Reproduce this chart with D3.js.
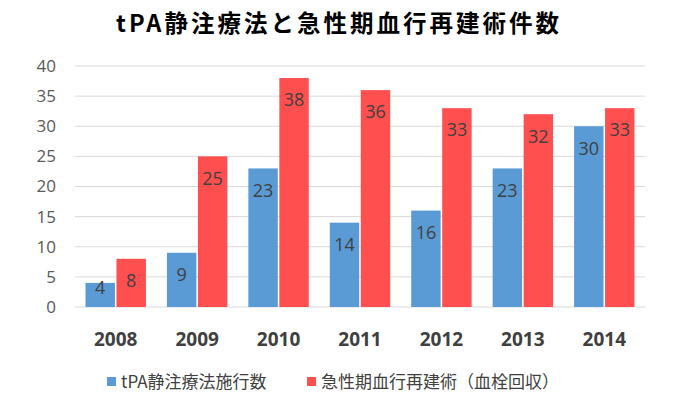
<!DOCTYPE html>
<html>
<head>
<meta charset="utf-8">
<script src="https://cdn.jsdelivr.net/npm/d3@7"></script>
<style>
  body { margin: 0; background: #fff; }
  svg { display: block; font-family: "Open Sans", "Noto Sans CJK JP", sans-serif; }
</style>
</head>
<body>
<svg id="chart" width="680" height="396"></svg>
<script>
const years = ["2008", "2009", "2010", "2011", "2012", "2013", "2014"];
const tpaCounts = [4, 9, 23, 14, 16, 23, 30];
const thrombCounts = [8, 25, 38, 36, 33, 32, 33];
const seriesNames = ["tPA静注療法施行数", "急性期血行再建術（血栓回収）"];
const seriesColors = ["#5B9BD5", "#FF4F4F"];
const yTicks = [0, 5, 10, 15, 20, 25, 30, 35, 40];
const title = "tPA静注療法と急性期血行再建術件数";

const svg = d3.select("#chart");
const margin = {top: 66, left: 75, right: 35, bottom: 89};
const width = 680 - margin.left - margin.right;
const height = 396 - margin.top - margin.bottom;

const x = d3.scaleBand().domain(years).range([0, width]).paddingInner(0).paddingOuter(0);
const inner = d3.scaleBand().domain([0, 1]).range([10.5, x.bandwidth() - 10.5]).paddingInner(0.05);
const y = d3.scaleLinear().domain([0, 40]).range([height, 0]);

const g = svg.append("g").attr("transform", `translate(${margin.left},${margin.top})`);

svg.append("text")
    .attr("x", 339).attr("y", 32)
    .attr("text-anchor", "middle")
    .attr("font-family", "'Noto Sans CJK JP', sans-serif")
    .attr("font-weight", "bold")
    .attr("font-size", 23.5)
    .attr("letter-spacing", 3)
    .attr("fill", "#000")
    .text(title);

// grid
g.append("g")
    .selectAll("line")
    .data(yTicks)
    .enter().append("line")
    .attr("x1", 0).attr("x2", width)
    .attr("y1", d => y(d)).attr("y2", d => y(d))
    .attr("stroke", "#D9D9D9").attr("stroke-width", 1);

const yAxis = g.append("g")
    .call(d3.axisLeft(y).tickValues(yTicks).tickSize(0).tickPadding(19));
yAxis.select(".domain").remove();
yAxis.selectAll("text")
    .attr("font-family", "'Open Sans', sans-serif")
    .attr("font-size", 17).attr("fill", "#595959");

const xAxis = g.append("g")
    .attr("transform", `translate(0,${height})`)
    .call(d3.axisBottom(x).tickSize(0).tickPadding(26));
xAxis.select(".domain").remove();
xAxis.selectAll("text")
    .attr("font-family", "'Open Sans', sans-serif")
    .attr("font-weight", "bold")
    .attr("font-size", 19).attr("fill", "#404040");

const series = [tpaCounts, thrombCounts];
series.forEach((vals, si) => {
    const grp = g.append("g");
    grp.selectAll("rect")
        .data(vals)
        .enter().append("rect")
        .attr("x", (d, i) => x(years[i]) + inner(si))
        .attr("y", d => y(d))
        .attr("width", inner.bandwidth())
        .attr("height", d => height - y(d))
        .attr("fill", seriesColors[si]);
    grp.selectAll("text")
        .data(vals)
        .enter().append("text")
        .attr("x", (d, i) => x(years[i]) + inner(si) + inner.bandwidth() / 2)
        .attr("y", d => Math.min(y(d) + 22, height - 19))
        .attr("dy", "0.35em")
        .attr("text-anchor", "middle")
        .attr("font-family", "'Open Sans', sans-serif")
        .attr("font-size", 18)
        .attr("fill", "#404040")
        .text(d => d);
});

// legend
const legendItems = [{x: 107}, {x: 307}];
legendItems.forEach((item, i) => {
    svg.append("rect")
        .attr("x", item.x).attr("y", 377)
        .attr("width", 9).attr("height", 9)
        .attr("fill", seriesColors[i]);
    svg.append("text")
        .attr("x", item.x + 14).attr("y", 382)
        .attr("dy", "0.35em")
        .attr("font-family", "'Noto Sans CJK JP', sans-serif")
        .attr("font-size", 17)
        .attr("fill", "#404040")
        .text(seriesNames[i]);
});
</script>
</body>
</html>
